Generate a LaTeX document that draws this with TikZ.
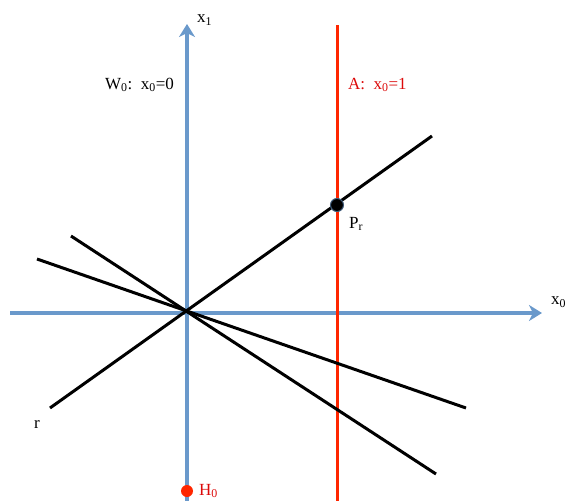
\documentclass[tikz,border=0pt]{standalone}
\usepackage{fontspec}
\setmainfont{Liberation Serif}
\usetikzlibrary{arrows.meta}
\definecolor{axblue}{RGB}{106,153,203}
\definecolor{lred}{RGB}{255,38,0}
\definecolor{tred}{RGB}{220,10,10}
\tikzset{
  axis/.style={draw=axblue,line width=4pt,-{Stealth[length=13pt,width=16pt,inset=4pt]}},
  blackline/.style={draw=black,line width=3pt},
  redline/.style={draw=lred,line width=3pt},
  lbl/.style={font=\fontsize{17}{20}\selectfont,inner sep=0pt},
}
\begin{document}
\begin{tikzpicture}[x=1pt,y=-1pt]
\useasboundingbox (0,0) rectangle (566,501);
\coordinate (O) at (187,313);
\coordinate (vb) at (187,501);
\coordinate (vt) at (187,24);
\coordinate (hl) at (10,313);
\coordinate (hr) at (542,313);
\coordinate (rt) at (337,25);
\coordinate (rb) at (337,501);
\coordinate (l1a) at (50,408);
\coordinate (l1b) at (432,136);
\coordinate (l2a) at (71,236);
\coordinate (l2b) at (436,474);
\coordinate (l3a) at (37,259);
\coordinate (l3b) at (466,408);
% axes
\draw[axis] (vb) -- (vt);
\draw[axis] (hl) -- (hr);
% red line
\draw[redline] (rb) -- (rt);
% black lines
\draw[blackline] (l1a) -- (l1b);
\draw[blackline] (l2a) -- (l2b);
\draw[blackline] (l3a) -- (l3b);
% points
\node[circle,fill=black,draw=axblue!60!black,line width=1pt,minimum size=13pt,inner sep=0pt] (Pr) at (337,205) {};
\node[circle,fill=lred,minimum size=12pt,inner sep=0pt] (H0) at (187,491) {};
% labels
\node[lbl,anchor=west] (x1) at (197,20) {x\textsubscript{1}};
\node[lbl,anchor=west] (x0) at (551,302) {x\textsubscript{0}};
\node[lbl,anchor=west] (W0) at (105,85) {W\textsubscript{0}:\ \ x\textsubscript{0}=0};
\node[lbl,anchor=west,text=tred] (A) at (348,85) {A:\ \ x\textsubscript{0}=1};
\node[lbl,anchor=west] (Prl) at (349,224) {P\textsubscript{r}};
\node[lbl,anchor=west] (rl) at (34,424) {r};
\node[lbl,anchor=west,text=tred] (H0l) at (199,491) {H\textsubscript{0}};
\end{tikzpicture}
\end{document}
